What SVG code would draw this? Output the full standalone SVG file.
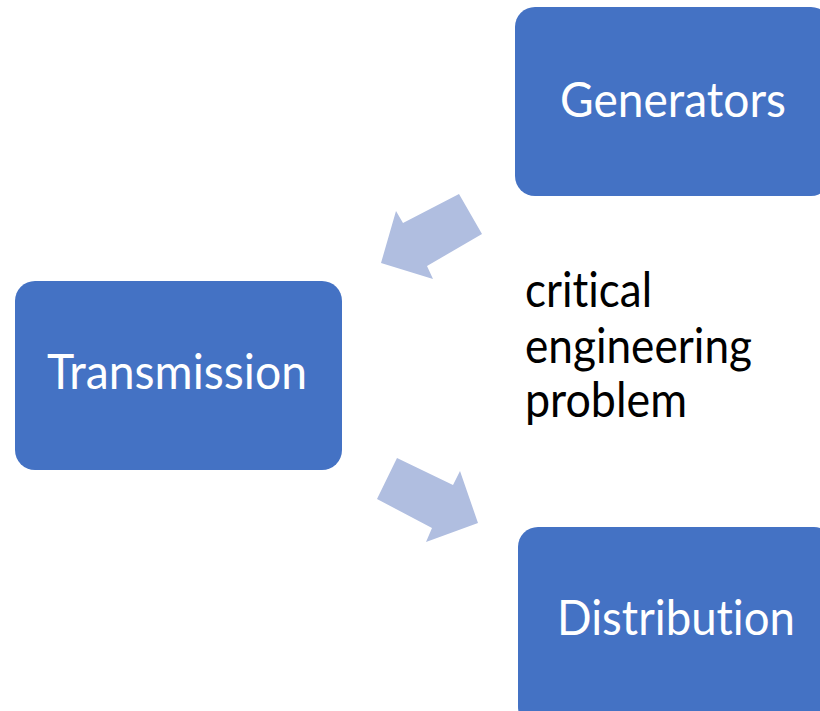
<svg xmlns="http://www.w3.org/2000/svg" width="820" height="711" viewBox="0 0 820 711">
<style>
.box{fill:#4472C4;}
.lbl{font-family:Lato,"Open Sans","Liberation Sans",sans-serif;font-size:48px;fill:#FFFFFF;text-anchor:middle;font-variant-ligatures:none;font-feature-settings:"liga" 0,"clig" 0;}
.note{font-family:Lato,"Open Sans","Liberation Sans",sans-serif;font-size:48px;fill:#000000;font-variant-ligatures:none;font-feature-settings:"liga" 0,"clig" 0;}
.arrow{fill:#B0BEE0;}
</style>
<rect width="820" height="711" fill="#FFFFFF"/>
<g id="connectors">
<polygon class="arrow" points="459,194 482,234 427,266 433,279 381,263 396,211 403,223"/>
<polygon class="arrow" points="397,458 453,485 460,471 478,523 426,542 432,528 377,499"/>
</g>
<g id="generators">
<rect class="box" x="515" y="7" width="316" height="189" rx="20" ry="20"/>
<text class="lbl" x="673" y="117" textLength="226" lengthAdjust="spacingAndGlyphs">Generators</text>
</g>
<g id="transmission">
<rect class="box" x="15" y="281" width="327" height="189" rx="20" ry="20"/>
<text class="lbl" x="177" y="389" textLength="260" lengthAdjust="spacingAndGlyphs">Transmission</text>
</g>
<g id="distribution">
<rect class="box" x="518" y="527" width="316" height="200" rx="20" ry="20"/>
<text class="lbl" x="676" y="635" textLength="238" lengthAdjust="spacingAndGlyphs">Distribution</text>
</g>
<g id="note">
<text class="note" x="525" y="307" textLength="127" lengthAdjust="spacingAndGlyphs">critical</text>
<text class="note" x="525" y="363" textLength="227" lengthAdjust="spacingAndGlyphs">engineering</text>
<text class="note" x="525" y="417" textLength="162" lengthAdjust="spacingAndGlyphs">problem</text>
</g>
</svg>
